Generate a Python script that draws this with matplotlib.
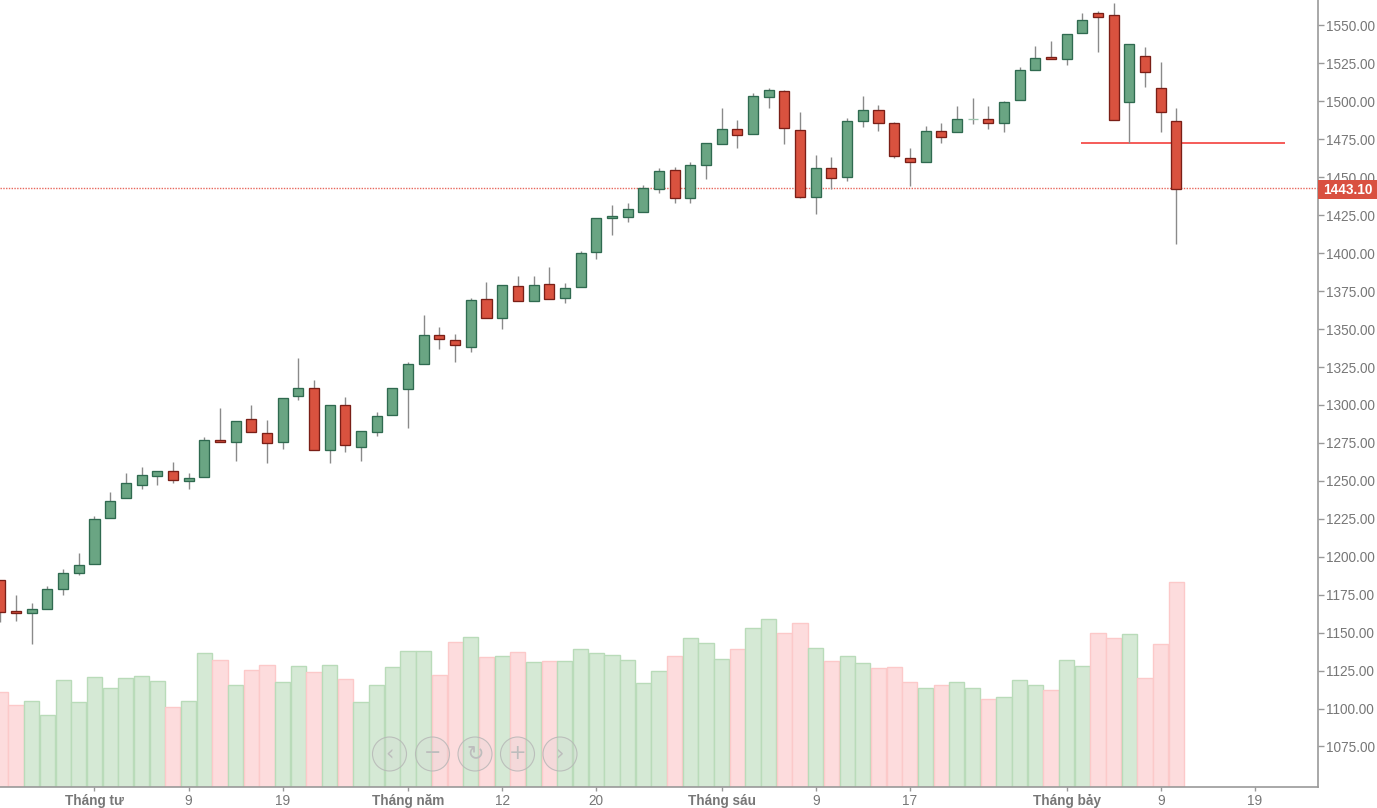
import numpy as np
import matplotlib
matplotlib.use("Agg")
import matplotlib.pyplot as plt
from matplotlib.patches import Circle, Rectangle

plt.rcParams["font.family"] = ["Liberation Sans", "DejaVu Sans"]

opens = [1184.7, 1164.5, 1163.2, 1165.6, 1178.6, 1189.3, 1195.2, 1225.5, 1238.7, 1247.1,
         1253.4, 1256.3, 1250.1, 1252.7, 1276.9, 1275.8, 1290.8, 1281.7, 1275.8, 1305.9,
         1311.2, 1270.1, 1300.0, 1272.5, 1282.4, 1293.2, 1310.7, 1326.8, 1346.1, 1342.8,
         1338.4, 1369.8, 1357.3, 1378.2, 1368.7, 1379.7, 1370.5, 1377.9, 1401.0, 1423.2,
         1423.8, 1427.3, 1442.1, 1454.8, 1436.4, 1457.9, 1471.9, 1481.8, 1478.5, 1503.1,
         1506.7, 1481.2, 1437.2, 1456.3, 1450.4, 1487.3, 1494.1, 1486.0, 1462.9, 1460.3,
         1480.3, 1480.0, 1488.4, 1488.4, 1485.8, 1500.7, 1520.5, 1529.1, 1527.7, 1545.1,
         1558.4, 1556.9, 1499.8, 1529.7, 1509.0, 1486.9]
closes = [1163.8, 1163.0, 1165.8, 1178.8, 1189.5, 1194.6, 1224.9, 1236.5, 1248.8, 1253.7,
          1256.3, 1250.4, 1252.1, 1276.9, 1275.6, 1289.2, 1282.4, 1275.1, 1304.6, 1311.2,
          1270.0, 1300.0, 1273.4, 1282.7, 1292.5, 1311.2, 1327.0, 1346.1, 1343.3, 1339.3,
          1369.2, 1357.3, 1378.8, 1368.7, 1378.8, 1369.6, 1377.3, 1400.3, 1423.4, 1424.3,
          1429.1, 1443.1, 1453.9, 1436.4, 1458.1, 1472.8, 1481.8, 1477.7, 1503.4, 1507.5,
          1482.5, 1437.2, 1456.3, 1449.5, 1486.9, 1494.1, 1485.8, 1464.2, 1460.3, 1480.3,
          1476.5, 1488.4, 1488.4, 1485.8, 1499.3, 1520.7, 1528.8, 1527.7, 1544.4, 1553.6,
          1555.8, 1487.5, 1537.8, 1519.6, 1493.2, 1442.0]
highs = [1184.7, 1174.8, 1169.5, 1180.7, 1191.9, 1202.5, 1226.9, 1242.5, 1255.0, 1258.9,
         1256.5, 1262.4, 1255.0, 1278.7, 1297.8, 1289.2, 1300.2, 1290.1, 1304.6, 1330.9,
         1316.5, 1300.0, 1305.3, 1282.7, 1295.2, 1311.2, 1328.3, 1359.3, 1351.2, 1346.8,
         1370.3, 1380.8, 1378.8, 1385.0, 1385.0, 1390.7, 1380.2, 1401.4, 1423.4, 1431.9,
         1432.9, 1444.9, 1455.9, 1456.6, 1459.9, 1472.8, 1495.5, 1487.7, 1505.3, 1508.6,
         1507.5, 1492.8, 1464.7, 1463.2, 1488.9, 1503.6, 1497.6, 1486.4, 1469.1, 1483.8,
         1485.6, 1497.0, 1502.0, 1497.0, 1500.3, 1522.5, 1536.5, 1540.0, 1544.4, 1558.0,
         1559.6, 1564.6, 1537.8, 1535.8, 1526.0, 1495.5]
lows = [1157.0, 1157.9, 1142.5, 1165.6, 1175.0, 1188.2, 1195.2, 1225.5, 1238.7, 1244.5,
        1247.5, 1248.4, 1244.5, 1252.7, 1275.6, 1263.3, 1282.4, 1262.0, 1270.8, 1303.3,
        1270.0, 1262.0, 1269.0, 1263.3, 1279.8, 1293.2, 1284.8, 1326.8, 1336.7, 1328.3,
        1334.9, 1357.3, 1349.9, 1368.7, 1368.7, 1369.6, 1367.0, 1377.9, 1396.0, 1412.2,
        1420.5, 1427.3, 1439.5, 1432.9, 1432.9, 1448.7, 1471.9, 1469.1, 1478.5, 1495.5,
        1471.7, 1436.2, 1425.6, 1442.5, 1447.8, 1483.3, 1480.7, 1462.5, 1444.3, 1460.3,
        1472.4, 1480.0, 1484.9, 1481.6, 1479.8, 1500.7, 1520.5, 1527.7, 1524.2, 1545.1,
        1532.7, 1487.5, 1472.8, 1509.3, 1479.8, 1405.9]
# volume has no scale on the chart, so these are bar heights in screen units
volumes = [95, 82, 86, 72, 107, 85, 110, 99, 109, 111, 106, 80, 86, 134, 127, 102, 117, 122, 105, 121,
           115, 122, 108, 85, 102, 120, 136, 136, 112, 145, 150, 130, 131, 135, 125, 126, 126, 138, 134, 132,
           127, 104, 116, 131, 149, 144, 128, 138, 159, 168, 154, 164, 139, 126, 131, 124, 119, 120, 105, 99,
           102, 105, 99, 88, 90, 107, 102, 97, 127, 121, 154, 149, 153, 109, 143, 205]

tick_pos = [6, 12, 18, 26, 32, 38, 46, 52, 58, 68, 74, 80]
tick_labels = ["Tháng tư", "9", "19", "Tháng năm", "12", "20", "Tháng sáu", "9", "17", "Tháng bảy", "9", "19"]
price_ticks = list(range(1075, 1575, 25))
last_price = 1443.1
level_price = 1472.9
level_span = (68.9, 81.9)

GREY = "#777777"

fig = plt.figure(figsize=(13.77, 8.08), dpi=100)
ax = fig.add_axes([0, 1 - 787 / 808, 1318 / 1377, 787 / 808])
ax_vol = ax.twinx()
ax.set_zorder(2)
ax.patch.set_visible(False)

x = np.arange(len(opens))
opens = np.array(opens)
closes = np.array(closes)
up = closes >= opens

# volume bars
ax_vol.bar(x, volumes, width=0.97, color=np.where(up, "#d5e9d5", "#fddcdd"),
           edgecolor=np.where(up, "#b9dbb9", "#fcc9c9"), linewidth=1.0)
ax_vol.set_ylim(0, 786)
ax_vol.set_yticks([])
for s in ax_vol.spines.values():
    s.set_visible(False)

# guide lines
ax.axhline(last_price, color="#e8675c", linestyle=(0, (1, 1)), linewidth=1.0, zorder=1)
ax.hlines(level_price, level_span[0], level_span[1], color="#f4403c", linewidth=1.2, zorder=1.5)

# candles
ax.vlines(x, lows, highs, color="#8a8a8a", linewidth=1.0, zorder=2)
body_fill = np.where(up, "#6aa583", "#d9523f")
body_edge = np.where(up, "#2f6a50", "#7a1f17")
body_edge[opens == closes] = "#9cc4ae"
ax.bar(x, closes - opens, bottom=opens, width=0.64, color=body_fill,
       edgecolor=body_edge, linewidth=0.95, zorder=3)

ax.set_xlim(-0.026, 84.03)
ax.set_ylim(1048.3, 1566.8)

ax.yaxis.tick_right()
ax.set_yticks(price_ticks)
ax.set_yticklabels([f"{p:.2f}" for p in price_ticks])
ax.tick_params(axis="y", length=4, width=1, color="#999999", labelcolor=GREY, labelsize=9.8, pad=2)
ax.set_xticks(tick_pos)
ax.set_xticklabels(tick_labels)
ax.tick_params(axis="x", length=3, width=1, color="#999999", labelcolor=GREY, labelsize=9.8, pad=2)
for lab in ax.get_xticklabels():
    if lab.get_text().startswith("Tháng"):
        lab.set_fontweight("bold")

ax.spines["top"].set_visible(False)
ax.spines["left"].set_visible(False)
ax.spines["right"].set_color("#999999")
ax.spines["bottom"].set_color("#999999")
ax.spines["right"].set_linewidth(1.2)
ax.spines["bottom"].set_linewidth(1.2)

# last price tag on the scale
ax.add_patch(Rectangle((1.0, last_price - 7.3), 59 / 1318, 12.6, transform=ax.get_yaxis_transform(),
                       facecolor="#d95040", edgecolor="none", clip_on=False, zorder=10))
ax.text(1 + 29.5 / 1318, last_price - 1.3, f"{last_price:.2f}", transform=ax.get_yaxis_transform(),
        color="white", fontsize=9.8, fontweight="bold", ha="center", va="center", zorder=11)

# navigation buttons, overlay in screen pixels
ov = fig.add_axes([0, 0, 1, 1], zorder=5)
ov.set_xlim(0, 1377)
ov.set_ylim(808, 0)
ov.axis("off")
for bx, glyph in zip([389.5, 432.5, 475, 517.5, 560], ["‹", "−", "↻", "+", "›"]):
    ov.add_patch(Circle((bx, 754), 17, facecolor="#d0d0d0", alpha=0.2, edgecolor="none"))
    ov.add_patch(Circle((bx, 754), 17, facecolor="none", edgecolor="#b5b5b5", linewidth=0.8, alpha=0.8))
    ov.text(bx, 753, glyph, fontsize=15, color="#bdbdbd", ha="center", va="center",
            family=["DejaVu Sans"])

fig.savefig("out.png", dpi=100)
